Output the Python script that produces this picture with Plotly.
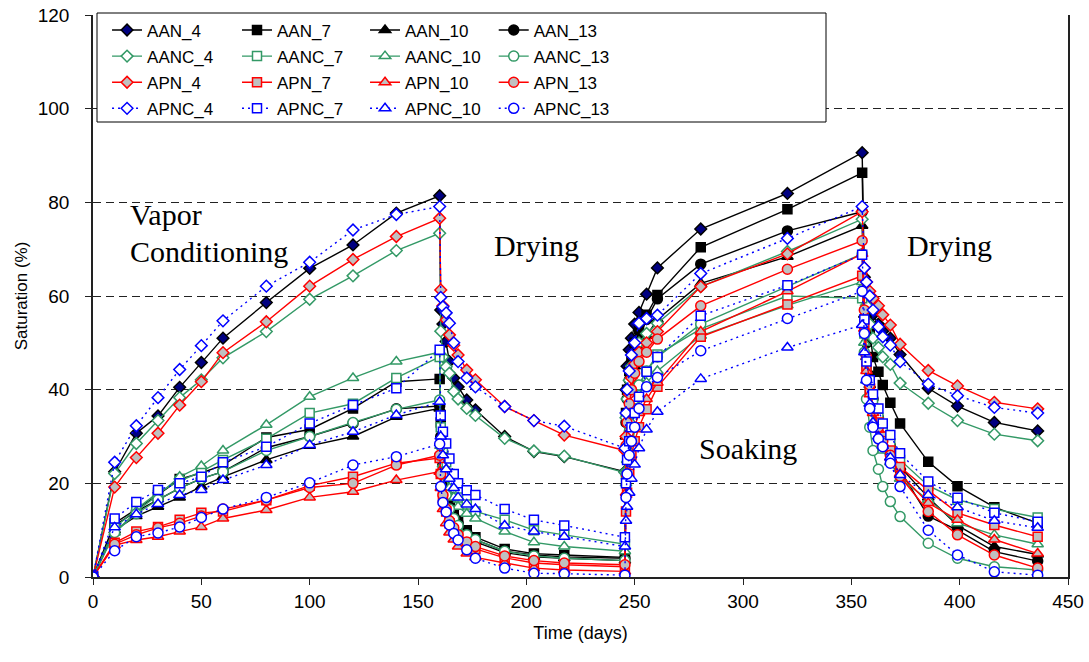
import plotly.graph_objects as go

# shared time axis (days): conditioning, drying, soaking, drying
days = [0, 10, 20, 30, 40, 50, 60, 80, 100, 120, 140, 160,
        160.5, 161.5, 163, 164.5, 166.5, 168.5, 172.5, 176.5, 190, 203.5, 217.5, 245.5,
        246, 246.5, 247.5, 248.5, 250, 252, 255.5, 260.5, 280.5, 320.5, 355,
        356, 357, 358.5, 360, 362.5, 364.5, 368, 372.5, 385.5, 399, 416, 436]

AAN_4 = [0, 22.5, 30.7, 34.4, 40.5, 45.8, 51, 58.6, 65.9, 70.9, 77.7, 81.4,
         57, 54, 50.3, 46, 42.5, 40.6, 37.8, 35.7, 30, 26.8, 25.7, 22.5,
         40, 45, 48.5, 51, 54, 56.5, 60.4, 66, 74.3, 81.9, 90.6,
         64, 60, 58, 56, 54, 52.5, 51, 47.5, 40.3, 36.5, 33, 31.2]
AAN_7 = [0, 11.5, 14.5, 17.5, 20.9, 22.2, 23.9, 29.8, 31.5, 36, 41.7, 42.3,
         33, 26, 21, 17, 14, 12, 10, 8.5, 6, 5, 4.7, 4.2,
         35, 40, 44, 47, 50, 53, 56, 60.2, 70.4, 78.5, 86.3,
         62, 56, 52, 47, 43.8, 41, 37.2, 32.8, 24.6, 19.4, 14.9, 11.5]
AAN_10 = [0, 10, 13, 15, 17, 19.3, 21.4, 25, 28, 30, 34.2, 36,
          28, 22, 17.5, 14, 12, 10.5, 8.5, 7.5, 5.2, 4.3, 4, 3.5,
          30, 35, 39, 42, 45, 48, 51.5, 55, 62.7, 68.4, 75,
          56, 47, 41, 37, 33, 30, 27, 23.5, 17, 11, 6.5, 4.8]
AAN_13 = [0, 11, 14, 16.5, 19, 21, 22.5, 27.6, 30, 32.8, 35.9, 36.5,
          30, 24, 19, 15.5, 13, 11.5, 9.5, 8, 5.5, 4.7, 4.3, 4,
          33, 38, 42, 45, 48, 51, 55, 59.4, 66.8, 73.9, 78,
          60, 50, 43, 38, 34, 31, 28, 22.8, 13, 10, 5.4, 3.4]
AANC_4 = [0, 22.1, 28.5, 33.4, 38.3, 42.1, 46.8, 52.4, 59.3, 64.3, 69.7, 73.4,
          52.5, 47, 44.9, 43.5, 39.6, 38, 36, 34.5, 29.6, 26.9, 25.8, 22.3,
          34, 38, 42, 45, 47, 50, 52, 54.2, 62, 69.5, 76.4,
          62, 58, 54, 51, 49, 47, 45.4, 41.4, 37.1, 33.4, 30.5, 29.1]
AANC_7 = [0, 10.5, 14.5, 18, 20.5, 22.5, 25, 29.5, 35, 37, 42.5, 47,
          32, 27.5, 24.5, 22, 19.5, 17, 15.5, 14, 12.2, 10, 9, 7,
          22, 27, 31, 35, 38, 41, 44, 47.5, 53, 60, 59.5,
          52, 45, 40, 37, 34, 31, 28.5, 25, 19.5, 16.5, 14.5, 12.7]
AANC_10 = [0, 9.5, 14, 17.5, 21.4, 23.7, 27, 32.5, 38.5, 42.5, 46, 48,
           28, 24, 21, 19, 17, 15, 13.5, 12.5, 9.7, 7.4, 6.5, 5.5,
           20, 25, 29, 33, 36, 39, 41.5, 44, 51.5, 58, 63,
           50, 42, 37, 33, 30, 27, 24.5, 21, 16.5, 11.5, 9, 7]
AANC_13 = [0, 9.5, 13.5, 16.5, 19, 21, 22.5, 27, 30, 33, 35.8, 37.8,
           28, 22, 17.5, 14.5, 12.5, 11, 9, 8, 5.5, 4.5, 4, 3.5,
           22, 27, 31, 35, 38, 41, 44, 47, 54, 62, 69,
           48, 38, 32, 27, 23, 19.3, 16.1, 12.9, 7.2, 4, 2.2, 1.5]
APN_4 = [0, 19.2, 25.5, 30.7, 36.7, 41.7, 47.9, 54.5, 62.1, 67.8, 72.7, 76.6,
         61.3, 57.9, 54.9, 51.7, 49.5, 47.4, 44.2, 42.1, 36.4, 33.4, 30.3, 27,
         30, 35, 39, 42.5, 45.5, 48, 50, 52.4, 62, 69, 78,
         66, 63, 61, 59.5, 57.9, 56, 53.8, 49.7, 44.1, 40.8, 37.3, 35.9]
APN_7 = [0, 7.3, 9.7, 10.7, 12.2, 13.7, 14, 16.4, 19.5, 21.4, 24.3, 25.4,
         22, 17, 14, 11.5, 10, 8.5, 7, 6, 4.1, 3, 2.6, 2.2,
         14, 18, 22, 26, 29, 32, 35.8, 40.6, 51.3, 58.2, 64.3,
         54, 45, 40, 36, 33, 30, 27, 23.5, 18.5, 13.7, 11.1, 8.6]
APN_10 = [0, 6.8, 7.9, 8.6, 9.7, 10.7, 12.5, 14.3, 17, 18.2, 20.7, 22.5,
          19, 14.5, 11.5, 9.5, 8, 6.5, 5, 4.2, 3, 1.9, 1.5, 1.2,
          18, 22, 26, 29, 32, 35, 38, 41.5, 52.4, 61, 69,
          53, 44, 39, 35, 31.5, 28.5, 25.5, 22, 15.8, 12.2, 8, 5]
APN_13 = [0, 7, 9, 10.5, 11.5, 13, 14.5, 16.4, 19.1, 20, 23.9, 26,
          22, 17.5, 14.5, 12, 10.5, 9, 7.5, 6.5, 4.5, 3.5, 3, 2.6,
          28, 33, 37, 40, 43.5, 46, 48, 50.8, 57.9, 65.7, 71.8,
          57, 47, 41, 36, 32, 29, 26, 21.5, 14, 9, 4.7, 1.9]
APNC_4 = [0, 24.5, 32.3, 38.3, 44.3, 49.4, 54.7, 62.1, 67.2, 74.1, 77.4, 79.1,
          59.7, 57.7, 56.4, 54.2, 50, 46, 42.5, 40.6, 36.4, 33.4, 32.2, 27.5,
          35, 40, 44, 47.4, 50, 54.2, 55.2, 55.9, 64.8, 72.3, 79.1,
          66, 63, 60, 57, 53.4, 51.3, 49.5, 46, 41.2, 38.7, 36.2, 35]
APNC_7 = [0, 12.5, 16, 18.6, 20, 21.4, 24.5, 27.8, 32.8, 36.7, 40.3, 48.5,
          34.5, 31, 28.5, 25.3, 22, 20, 18.5, 17.5, 14.5, 12.2, 11, 8.5,
          20, 25, 29, 32, 35, 38.5, 43.8, 47, 55.8, 62.3, 68.8,
          55, 46, 42, 39, 36, 32.8, 30.3, 26.4, 20.4, 16.9, 13.7, 11.8]
APNC_10 = [0, 10.6, 13.4, 15.6, 17.5, 18.6, 20.7, 23.9, 28.2, 31, 34.6, 37.4,
           30, 26, 23, 21, 19, 17, 15.5, 14.5, 11, 9.7, 8.6, 6.5,
           12, 15, 18, 21, 24, 27.5, 31.5, 35.3, 42.3, 49, 53.8,
           48, 42, 37, 33, 30, 28, 25.5, 21.8, 17.5, 14.9, 12, 10.5]
APNC_13 = [0, 5.6, 8.6, 9.4, 10.7, 12.7, 14.5, 17, 20.1, 23.9, 25.7, 28.4,
           19.3, 15.9, 13.9, 11.1, 9.3, 7.9, 5.8, 4.0, 1.9, 0.8, 0.7, 0.4,
           17, 22, 26, 29, 32, 36, 40.6, 42.6, 48.3, 55.2, 61,
           52, 42, 36, 32, 29.5, 27.8, 24.3, 19.3, 10, 4.7, 1.1, 0.4]

series = [
    ("AAN_4", AAN_4), ("AAN_7", AAN_7), ("AAN_10", AAN_10), ("AAN_13", AAN_13),
    ("AANC_4", AANC_4), ("AANC_7", AANC_7), ("AANC_10", AANC_10), ("AANC_13", AANC_13),
    ("APN_4", APN_4), ("APN_7", APN_7), ("APN_10", APN_10), ("APN_13", APN_13),
    ("APNC_4", APNC_4), ("APNC_7", APNC_7), ("APNC_10", APNC_10), ("APNC_13", APNC_13),
]

GREEN = "#339966"
symbols = {"4": "diamond", "7": "square", "10": "triangle-up", "13": "circle"}
sizes = {"4": 9, "7": 9, "10": 10, "13": 10}
legend_of = {"4": "legend", "7": "legend2", "10": "legend3", "13": "legend4"}

fig = go.Figure()
for name, vals in series:
    fam, num = name.split("_")
    if fam == "AAN":
        lc, fill, mlc, dash = "black", ("#000080" if num == "4" else "black"), "black", "solid"
    elif fam == "AANC":
        lc, fill, mlc, dash = GREEN, "white", GREEN, "solid"
    elif fam == "APN":
        lc, fill, mlc, dash = "#FF0000", "#C0C0C0", "#FF0000", "solid"
    else:
        lc, fill, mlc, dash = "#0000FF", "white", "#0000FF", "2px,4px"
    fig.add_trace(go.Scatter(
        x=days, y=vals, name=name, mode="lines+markers",
        line=dict(color=lc, width=1.4, dash=dash),
        marker=dict(symbol=symbols[num], size=sizes[num], color=fill,
                    line=dict(color=mlc, width=1.5)),
        legend=legend_of[num], legendgroup=name,
    ))

leg_common = dict(font=dict(family="Liberation Sans, Arial", size=17, color="black"),
                  bgcolor="rgba(0,0,0,0)", borderwidth=0, tracegroupgap=1,
                  itemwidth=30, yanchor="top", xanchor="left", traceorder="grouped")
lx = [0.0144, 0.1477, 0.279, 0.411]
ly = 1.0045
fig.update_layout(
    width=1089, height=662,
    margin=dict(l=93, r=21, t=15, b=85, autoexpand=False),
    paper_bgcolor="white", plot_bgcolor="white",
    font=dict(family="Liberation Sans, Arial", color="black"),
    legend=dict(x=lx[0], y=ly, **leg_common),
    legend2=dict(x=lx[1], y=ly, **leg_common),
    legend3=dict(x=lx[2], y=ly, **leg_common),
    legend4=dict(x=lx[3], y=ly, **leg_common),
    xaxis=dict(range=[0, 450], dtick=50, tick0=0, showgrid=False, zeroline=False,
               showline=True, linecolor="#222", linewidth=1.5, automargin=False,
               ticks="outside", ticklen=6, tickcolor="#222",
               tickfont=dict(size=19),
               title=dict(text="Time (days)", font=dict(size=18), standoff=16)),
    yaxis=dict(range=[0, 120], dtick=20, tick0=0, showgrid=True,
               gridcolor="#222", gridwidth=1, griddash="8px,5px", zeroline=False,
               showline=True, mirror=True, linecolor="#222", linewidth=1.5,
               automargin=False, ticklabelstandoff=12,
               ticks="outside", ticklen=6, tickcolor="#222",
               tickfont=dict(size=19),
               title=dict(text="Saturation (%)", font=dict(size=17), standoff=6)),
    showlegend=True,
)

# legend frame
fig.add_shape(type="rect", xref="paper", yref="paper",
              x0=(97 - 93) / 975, x1=(826 - 93) / 975,
              y0=1 - (122 - 15) / 562, y1=1 + (15 - 13) / 562,
              line=dict(color="black", width=1), fillcolor="white", layer="above")

serif = dict(family="Liberation Serif, Times New Roman, serif", size=30, color="black")
for txt, xv, yv in [("Vapor", 16.2, 77.5), ("Conditioning", 16.2, 69.4),
                    ("Drying", 184.1, 70.8), ("Soaking", 278.7, 27.5),
                    ("Drying", 374.7, 70.7)]:
    fig.add_annotation(x=xv, y=yv, xref="x", yref="y", text=txt, showarrow=False,
                       xanchor="left", yanchor="middle", font=serif)

fig.write_html("out.html", config={"displayModeBar": False},
               post_script="document.body.style.margin='0';document.body.style.padding='0';")
